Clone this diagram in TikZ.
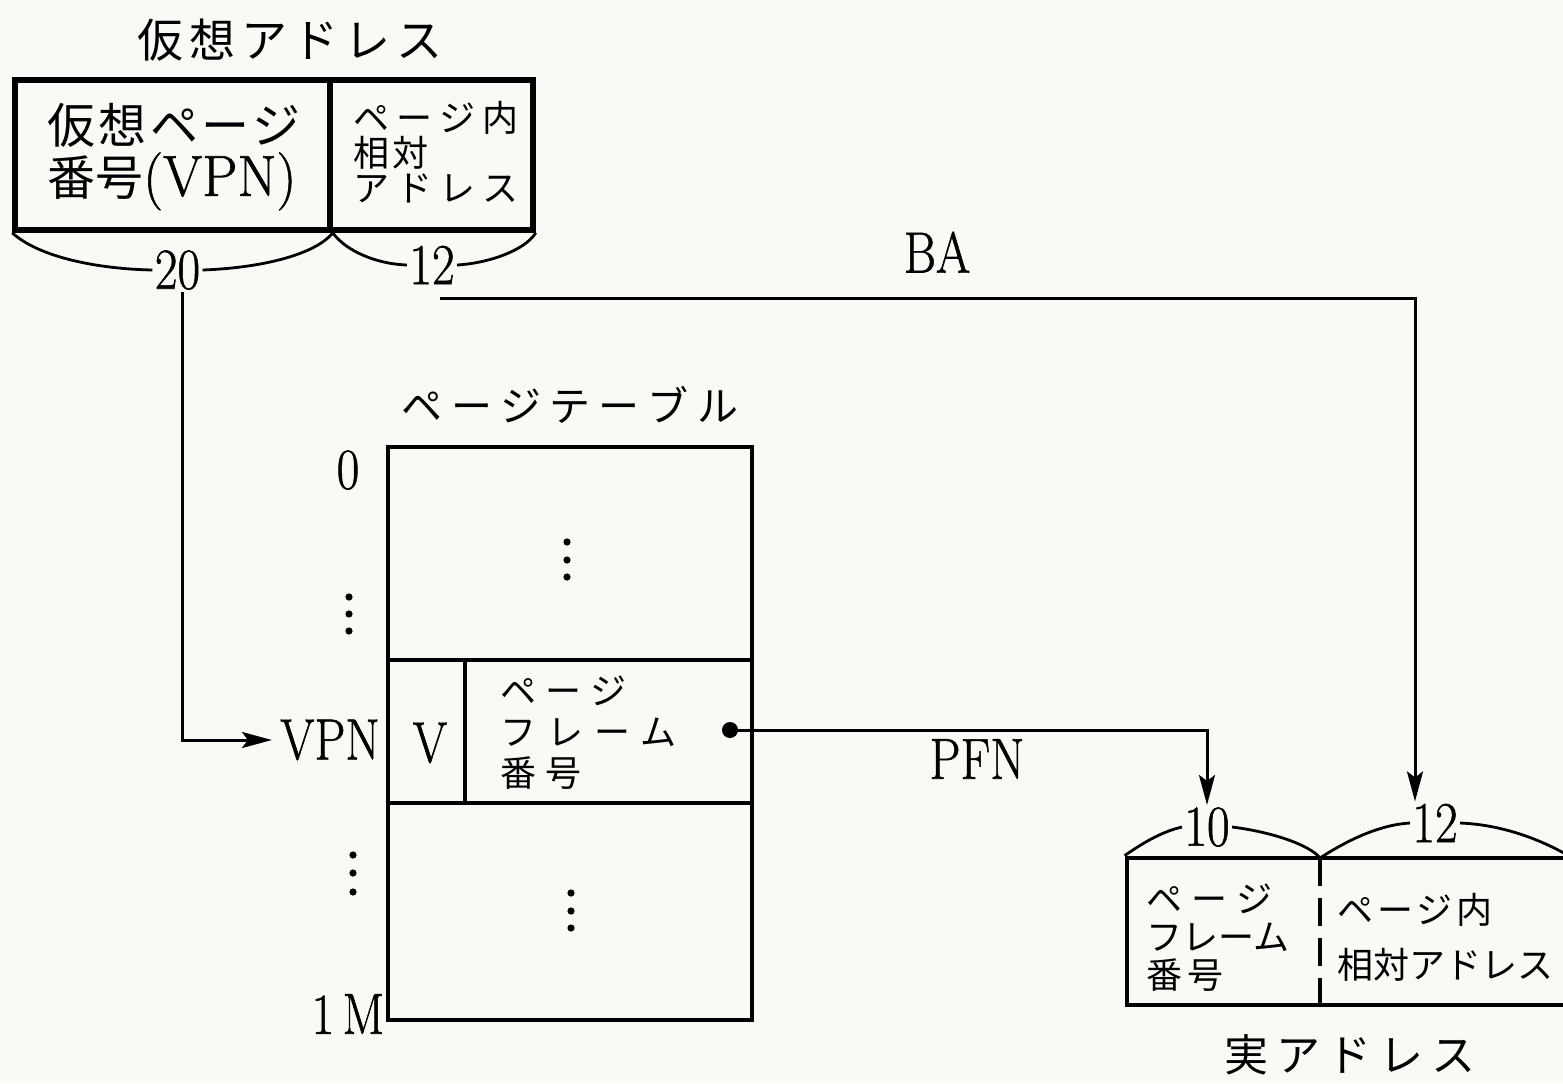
\documentclass[tikz,border=0pt]{standalone}
\usepackage{fontspec}
\usetikzlibrary{arrows.meta}
\newfontfamily\jp{Noto Sans CJK JP}
\newfontfamily\latf{Latin Modern Roman}[FakeBold=1]
\ExplSyntaxOn
\NewDocumentCommand\sps{O{0.1em}m}{\tl_map_inline:nn{#2}{##1\hspace{#1}}\unskip}
\ExplSyntaxOff
\newcommand\latn[2][0.85]{\scalebox{#1}[1]{\fontsize{29pt}{32pt}\latf\selectfont #2}}
\definecolor{paper}{RGB}{250,249,245}
\begin{document}
\begin{tikzpicture}[x=0.5pt,y=-0.5pt,
  jt/.style={inner sep=0pt, align=left},
  cellA/.style={draw, line width=2.8pt, inner sep=0pt},
  cellT/.style={draw, line width=2pt, inner sep=0pt},
  arr/.style={line width=1.5pt, -{Stealth[length=15pt,width=8pt,inset=3pt]}},
  brc/.style={line width=1.4pt},
  lab/.style={inner sep=1pt},
  dotc/.style={circle, fill, inner sep=0pt, minimum size=8pt}]
\fill[paper] (0,0) rectangle (1563,1083);
\useasboundingbox (0,0) rectangle (1563,1083);

% virtual address
\node[jt, font={\jp\fontsize{23pt}{26pt}\selectfont}] (tva) at (290,40) {\sps[0.13em]{仮想アドレス}};
\node[cellA, minimum width=157.5pt, minimum height=75pt] (vl) at (172.5,155) {};
\node[cellA, minimum width=101.5pt, minimum height=75pt] (vr) at (431.5,155) {};
\node[jt, font={\jp\fontsize{24pt}{26pt}\selectfont}] (vlt) at (174,157) {\sps[0.07em]{仮想ページ}\\番号\latn[0.97]{(VPN)}};
\node[jt, font={\jp\fontsize{18pt}{17.5pt}\selectfont}] (vrt) at (436,152) {\sps[0.2em]{ページ内}\\\sps[0.1em]{相対}\\\sps[0.2em]{アドレス}};
\node[lab] (n20) at (177.5,270) {\latn{20}};
\node[lab] (n12) at (432,265) {\latn{12}};
\draw[brc] (vl.south west) .. controls (40,258) and (100,269) .. (n20.west);
\draw[brc] (n20.east) .. controls (260,268) and (315,255) .. (vl.south east);
\draw[brc] (vl.south east) .. controls (345,250) and (375,264) .. (n12.west);
\draw[brc] (n12.east) .. controls (490,263) and (525,250) .. (vr.south east);

% page table
\node[jt, font={\jp\fontsize{20.5pt}{24pt}\selectfont}] (ptl) at (570,405) {\sps[0.2em]{ページテーブル}};
\node[cellT, minimum width=182pt, minimum height=106.5pt] (ttop) at (570,553.5) {};
\node[cellT, minimum width=38.5pt, minimum height=71.5pt] (tv) at (426.5,731.5) {};
\node[cellT, minimum width=143.5pt, minimum height=71.5pt] (tpf) at (608.5,731.5) {};
\node[cellT, minimum width=182pt, minimum height=108.5pt] (tbot) at (570,911.5) {};
\node[lab] (tvl) at (430,743) {\latn{V}};
\node[jt, anchor=west, font={\jp\fontsize{18pt}{20.5pt}\selectfont}] (tpft) at (500,733) {\sps[0.25em]{ページ}\\\sps[0.3em]{フレーム}\\\sps[0.25em]{番号}};
\node[dotc] (pfd) at (730,730) {};
\foreach \yy in {542,560,577} \fill (567,\yy) circle (1.8pt);
\foreach \yy in {893,911,928} \fill (571,\yy) circle (1.8pt);

% left labels
\node[lab] (l0) at (348,470) {\latn{0}};
\foreach \yy in {597,614,631} \fill (349,\yy) circle (1.8pt);
\node[lab, inner sep=4pt] (lvpn) at (330,740) {\latn{VPN}};
\foreach \yy in {855,873,892} \fill (353,\yy) circle (1.8pt);
\node[lab] (l1m) at (348,1014) {\latn{1\,M}};

% labels on connectors
\node[lab] (ba) at (937,252) {\latn{BA}};
\node[lab] (pfn) at (977,759) {\latn{PFN}};

% real address
\node[cellT, line width=2.4pt, minimum width=219.5pt, minimum height=73.5pt] (ra) at (1346.5,931.5) {};
\coordinate (rdT) at (1320,858);
\coordinate (rdB) at (1320,1005);
\draw[line width=2pt, dash pattern=on 14pt off 6pt] (rdT) -- (rdB);
\node[jt, anchor=west, font={\jp\fontsize{18pt}{19pt}\selectfont}] (rlt) at (1146,938) {\sps[0.25em]{ページ}\\フレーム\\\sps[0.15em]{番号}};
\node[jt, anchor=west, font={\jp\fontsize{18pt}{27.5pt}\selectfont}] (rrt) at (1337,937) {\sps[0.1em]{ページ内}\\相対アドレス};
\node[lab] (r10) at (1207,827) {\latn{10}};
\node[lab] (r12) at (1435,823) {\latn{12}};
\node[jt, font={\jp\fontsize{22pt}{26pt}\selectfont}] (rat) at (1350,1055) {\sps[0.18em]{実アドレス}};
\draw[brc] (ra.north west) .. controls (1140,845) and (1160,832) .. (r10.west);
\draw[brc] (r10.east) .. controls (1272,832) and (1310,845) .. (rdT);
\draw[brc] (rdT) .. controls (1340,845) and (1375,825) .. (r12.west);
\draw[brc] (r12.east) .. controls (1510,825) and (1550,845) .. (ra.north east);

% connectors
\draw[arr] ([xshift=2.5pt]n20.south) |- (lvpn.west);
\draw[arr] ([shift={(4pt,-6pt)}]n12.south) -| ([xshift=-10pt]r12.north);
\draw[arr] (pfd.center) -| (r10.north);
\end{tikzpicture}
\end{document}
